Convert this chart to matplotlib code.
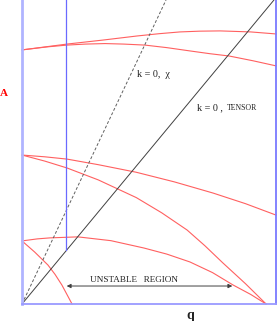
import numpy as np
import matplotlib
matplotlib.use("Agg")
import matplotlib.pyplot as plt

# Branch curves (q, A)
top1_q = [0.0, 1.77, 3.2, 4.53, 5.4, 6.22, 7.0, 7.8, 9.0, 10.0]
top1_A = [10.03, 10.26, 10.42, 10.58, 10.67, 10.74, 10.77, 10.78, 10.74, 10.66]
top2_q = [0.0, 1.0, 1.77, 2.5, 3.27, 4.0, 4.84, 5.7, 6.61, 7.4, 8.15, 9.1, 10.0]
top2_A = [10.03, 10.15, 10.22, 10.26, 10.28, 10.26, 10.22, 10.12, 9.99, 9.88, 9.79, 9.6, 9.40]

mid1_q = [0.0, 0.9, 1.77, 3.0, 4.5, 6.0, 7.52, 8.8, 10.0]
mid1_A = [5.88, 5.81, 5.72, 5.50, 5.20, 4.82, 4.38, 3.96, 3.51]
mid2_q = [0.0, 0.9, 1.77, 3.0, 4.5, 5.5, 6.5, 7.2, 7.91, 8.8, 9.61]
mid2_A = [5.88, 5.64, 5.37, 4.90, 4.20, 3.60, 2.92, 2.30, 1.62, 0.80, 0.0]

low1_q = [0.0, 0.6, 1.1, 2.2, 3.5, 4.8, 5.7, 6.61, 7.5, 8.31, 9.0, 9.61]
low1_A = [2.49, 2.57, 2.61, 2.65, 2.50, 2.21, 1.97, 1.66, 1.24, 0.75, 0.38, 0.0]
low2_q = [0.0, 0.5, 1.02, 1.3, 1.57, 1.97]
low2_A = [2.49, 2.05, 1.54, 1.17, 0.75, 0.0]

# k = 0 lines (through the origin)
tensor_q = [0.0, 9.92]
tensor_A = [0.0, 12.0]
chi_q = [0.0, 5.67]
chi_A = [0.0, 12.0]

# vertical boundary and unstable region
wall_q = 1.75
wall_A = [2.13, 12.0]
unstable_q = [1.65, 8.39]
unstable_A = 0.71

W, H = 277, 321
fig = plt.figure(figsize=(W/100, H/100), dpi=100)
ax = fig.add_axes([22/W, 1 - 304/H, 254/W, 304/H])
ax.set_xlim(0, 10)
ax.set_ylim(0, 12)

red = '#ff6060'
for qq, aa in [(top1_q, top1_A), (top2_q, top2_A), (mid1_q, mid1_A),
               (mid2_q, mid2_A), (low1_q, low1_A), (low2_q, low2_A)]:
    ax.plot(qq, aa, color=red, lw=0.8, clip_on=False)

ax.plot(tensor_q, tensor_A, color='#404040', lw=0.7)
ax.plot(chi_q, chi_A, color='#606060', lw=0.7, dashes=(3, 2))
ax.plot([wall_q, wall_q], wall_A, color='#6a6aff', lw=0.9)

ax.annotate('', xy=(unstable_q[1], unstable_A), xytext=(unstable_q[0], unstable_A),
            arrowprops=dict(arrowstyle='<|-|>', color='#404040', lw=0.7,
                            mutation_scale=6))

serif = 'Liberation Serif'
ax.text(np.mean(unstable_q) - 0.6, 0.86, 'UNSTABLE   REGION',
        family=serif, fontsize=6.6, color='#222222', ha='center', va='baseline')
ax.text(4.53, 8.96, 'k = 0,  \u03c7', family=serif, fontsize=7.3,
        color='#222222', ha='left', va='baseline')
ax.text(6.89, 7.66, 'k = 0 ,', family=serif, fontsize=7.3,
        color='#222222', ha='left', va='baseline')
ax.text(8.07, 7.66, 'TENSOR', family=serif, fontsize=5.6,
        color='#222222', ha='left', va='baseline')

# frame: only left, bottom and right sides
ax.spines['top'].set_visible(False)
ax.spines['left'].set_color('#b0b4ff')
ax.spines['left'].set_linewidth(2.0)
ax.spines['bottom'].set_color('#9a9aff')
ax.spines['bottom'].set_linewidth(1.3)
ax.spines['right'].set_color('#7a7aff')
ax.spines['right'].set_linewidth(1.3)
ax.set_xticks([])
ax.set_yticks([])

fig.text(4/W, 1 - 94/H, 'A', family=serif, fontsize=8, fontweight='bold',
         color='red', ha='center', va='center')
fig.text(190/W, 1 - 315/H, 'q', family=serif, fontsize=10, fontweight='bold',
         color='#222222', ha='center', va='center')

fig.savefig('out.png', dpi=100)
